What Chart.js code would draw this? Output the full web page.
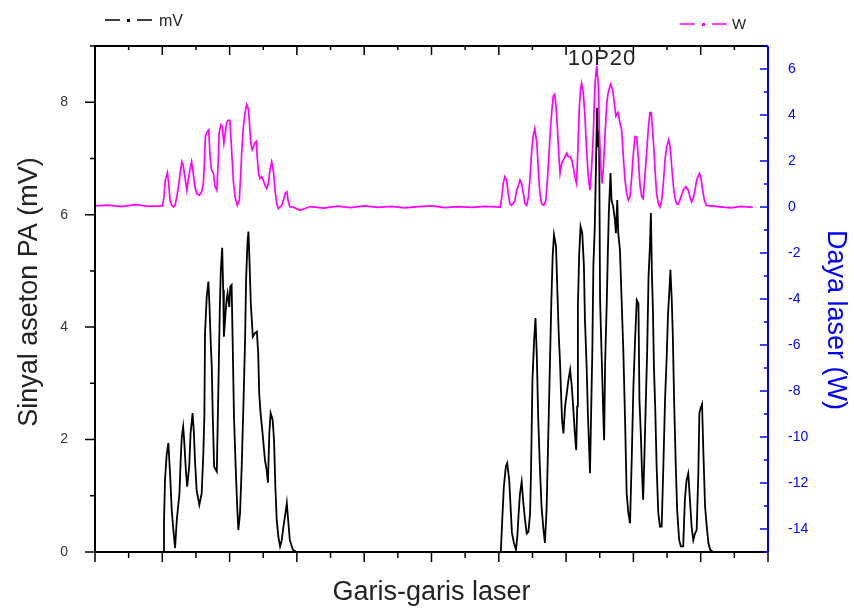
<!DOCTYPE html>
<html>
<head>
<meta charset="utf-8">
<script src="https://cdn.jsdelivr.net/npm/chart.js@4.4.0/dist/chart.umd.min.js"></script>
<style>
  html, body { margin: 0; padding: 0; background: #fff; }
  #wrap { width: 854px; height: 608px; position: relative; }
</style>
</head>
<body>
<div id="wrap"><canvas id="chart"></canvas></div>
<script>
// ============================================
// Sinyal aseton PA (mV) dan daya laser (W) per garis laser
// ============================================

const mvTicks = [0, 2, 4, 6, 8];
const wTicks = [-14, -12, -10, -8, -6, -4, -2, 0, 2, 4, 6];

// Sinyal PA, kelompok kiri  [garis, mV]
const mvLeft = [
  [2.03,0],[2.05,0.51],[2.08,1.28],[2.13,1.73],[2.18,1.94],[2.23,1.40],[2.28,0.75],[2.33,0.39],[2.38,0.07],[2.43,0.57],
  [2.51,1.04],[2.55,1.70],[2.58,2.05],[2.62,2.23],[2.65,1.99],[2.70,1.46],[2.74,1.16],[2.80,1.52],[2.84,2.11],[2.90,2.47],
  [2.94,2.11],[2.97,1.64],[3.02,1.10],[3.10,0.84],[3.17,1.04],[3.22,1.76],[3.25,2.41],[3.27,3.90],[3.32,4.54],[3.37,4.81],
  [3.40,4.42],[3.44,3.71],[3.47,3.30],[3.50,2.41],[3.54,1.52],[3.62,1.43],[3.66,2.70],[3.71,4.36],[3.74,5.02],[3.78,5.41],
  [3.81,4.66],[3.83,3.83],[3.88,4.25],[3.91,4.48],[3.94,4.60],[3.99,4.36],[4.02,4.72],[4.06,4.75],[4.09,3.77],[4.13,2.41],
  [4.18,1.52],[4.23,0.75],[4.26,0.39],[4.31,0.69],[4.36,1.52],[4.41,2.59],[4.46,3.77],[4.49,4.84],[4.53,5.49],[4.56,5.70],
  [4.59,5.20],[4.63,4.42],[4.69,3.83],[4.75,3.89],[4.81,3.92],[4.85,3.54],[4.88,2.82],[4.92,2.47],[4.98,2.11],[5.05,1.64],
  [5.10,1.46],[5.14,1.23],[5.18,2.11],[5.22,2.47],[5.28,2.35],[5.32,1.99],[5.36,1.16],[5.40,0.57],[5.45,0.27],[5.50,0.10],
  [5.55,0.21],[5.60,0.45],[5.66,0.69],[5.70,0.87],[5.74,0.57],[5.79,0.21],[5.88,0.04],[5.99,0]
];

// Sinyal PA, kelompok kanan (10P20)
const mvRight = [
  [12.06,0],[12.10,0.54],[12.15,1.16],[12.21,1.52],[12.25,1.58],[12.31,1.28],[12.35,0.81],[12.39,0.34],[12.45,0.16],[12.51,0.04],
  [12.55,0.27],[12.59,0.69],[12.63,1.04],[12.68,1.25],[12.73,0.87],[12.78,0.57],[12.83,0.33],[12.88,0.36],[12.93,0.69],[12.96,1.52],
  [13.00,3.06],[13.05,3.77],[13.09,4.16],[13.13,3.48],[13.17,2.41],[13.22,1.52],[13.27,0.81],[13.32,0.45],[13.37,0.16],[13.42,0.75],
  [13.47,2.05],[13.52,3.36],[13.56,4.42],[13.60,5.25],[13.64,5.64],[13.70,5.43],[13.74,4.66],[13.78,3.89],[13.82,3.36],[13.85,2.82],
  [13.88,2.35],[13.92,2.11],[13.97,2.59],[14.02,2.82],[14.07,3.06],[14.12,3.24],[14.17,2.94],[14.21,2.59],[14.26,2.11],[14.30,1.81],
  [14.33,2.59],[14.35,4.36],[14.39,5.31],[14.43,5.79],[14.48,5.67],[14.53,5.08],[14.56,4.13],[14.61,3.30],[14.65,2.41],[14.69,1.76],
  [14.71,1.40],[14.74,2.35],[14.78,3.59],[14.81,5.08],[14.85,5.73],[14.88,6.60],[14.92,7.90],[14.95,7.20],[14.98,7.50],[15.01,4.48],
  [15.06,3.42],[15.11,2.35],[15.13,1.99],[15.16,3.36],[15.21,4.48],[15.24,5.31],[15.27,6.03],[15.32,6.74],[15.35,6.26],[15.40,6.14],
  [15.45,5.91],[15.48,5.67],[15.52,6.26],[15.55,5.67],[15.60,5.37],[15.65,4.48],[15.70,3.59],[15.75,2.41],[15.80,1.04],[15.85,0.69],
  [15.90,0.51],[15.95,1.64],[16.00,2.94],[16.05,3.77],[16.10,4.48],[16.15,4.42],[16.18,2.70],[16.22,2.11],[16.26,1.34],[16.29,0.93],
  [16.33,1.76],[16.37,2.70],[16.41,3.59],[16.45,4.90],[16.49,5.43],[16.52,6.03],[16.55,4.96],[16.58,4.31],[16.61,3.30],[16.65,2.53],
  [16.69,1.52],[16.74,0.69],[16.79,0.45],[16.84,0.45],[16.89,1.52],[16.94,2.70],[16.99,3.48],[17.03,4.25],[17.07,4.66],[17.10,5.02],
  [17.14,4.48],[17.17,3.89],[17.21,2.70],[17.26,1.52],[17.30,0.75],[17.36,0.21],[17.41,0.10],[17.48,0.10],[17.53,0.93],[17.58,1.28],
  [17.63,1.40],[17.68,0.93],[17.73,0.45],[17.78,0.21],[17.83,0.33],[17.88,0.39],[17.93,1.40],[17.96,2.47],[18.00,2.56],[18.04,2.63],
  [18.08,1.76],[18.13,0.81],[18.18,0.45],[18.23,0.16],[18.28,0.04],[18.37,0]
];

const mvFlat = [[0,0],[19.55,0]];

// Daya laser, kelompok kiri  [garis, W]
const wLeft = [
  [2.01,0.05],[2.05,0.45],[2.09,1.17],[2.15,1.49],[2.19,1.02],[2.23,0.29],[2.28,0.07],[2.33,0.00],[2.38,0.07],[2.43,0.44],
  [2.48,0.88],[2.53,1.46],[2.58,1.97],[2.62,1.83],[2.67,1.32],[2.73,0.73],[2.77,1.17],[2.82,1.61],[2.87,1.97],[2.92,1.46],
  [2.97,0.88],[3.02,0.59],[3.10,0.51],[3.17,0.66],[3.22,1.02],[3.25,1.90],[3.28,3.07],[3.34,3.29],[3.38,3.36],[3.42,2.19],
  [3.46,1.61],[3.52,1.46],[3.57,0.88],[3.62,0.73],[3.66,1.90],[3.69,3.22],[3.74,3.58],[3.78,3.51],[3.83,2.78],[3.87,3.22],
  [3.91,3.66],[3.96,3.77],[4.01,3.77],[4.06,2.49],[4.11,1.17],[4.16,0.44],[4.23,0.07],[4.29,0.29],[4.33,1.46],[4.37,2.63],
  [4.41,3.51],[4.46,4.10],[4.51,4.46],[4.56,4.24],[4.59,3.66],[4.63,2.78],[4.67,2.49],[4.71,2.63],[4.75,2.78],[4.80,2.86],
  [4.82,2.19],[4.86,1.46],[4.90,1.24],[4.95,1.32],[5.00,1.17],[5.05,0.95],[5.10,0.80],[5.15,1.02],[5.20,1.61],[5.25,1.97],
  [5.28,1.75],[5.32,1.32],[5.35,0.73],[5.40,0.15],[5.45,-0.07],[5.50,0.00],[5.55,0.07],[5.60,0.29],[5.65,0.59],[5.70,0.66],
  [5.74,0.29],[5.79,0.00],[5.89,0.00],[5.99,-0.07],[6.09,-0.14]
];

// Daya laser, kelompok kanan
const wRight = [
  [12.04,0.00],[12.09,0.44],[12.13,1.02],[12.18,1.32],[12.23,1.17],[12.28,0.59],[12.33,0.15],[12.38,0.07],[12.43,0.15],[12.48,0.29],
  [12.53,0.73],[12.57,0.88],[12.63,1.17],[12.68,1.02],[12.73,0.59],[12.78,0.15],[12.83,0.07],[12.88,0.44],[12.93,1.32],[12.98,2.49],
  [13.02,3.07],[13.07,3.41],[13.13,2.78],[13.17,1.75],[13.22,0.59],[13.27,0.15],[13.34,0.07],[13.40,0.29],[13.45,1.32],[13.50,2.49],
  [13.54,3.51],[13.58,4.24],[13.62,4.82],[13.66,4.90],[13.70,4.39],[13.74,3.51],[13.78,2.34],[13.82,1.46],[13.87,1.90],[13.92,2.05],
  [13.97,2.19],[14.02,2.34],[14.06,2.19],[14.12,2.19],[14.17,2.05],[14.21,1.75],[14.26,1.32],[14.31,1.02],[14.35,2.49],[14.39,4.24],
  [14.43,5.12],[14.46,5.38],[14.51,4.97],[14.56,3.95],[14.61,2.49],[14.66,1.32],[14.71,0.73],[14.76,1.75],[14.81,3.22],[14.86,5.41],
  [14.91,6.14],[14.96,5.26],[14.99,3.22],[15.03,1.75],[15.07,1.02],[15.11,1.75],[15.16,3.22],[15.21,4.53],[15.25,4.97],[15.32,5.34],
  [15.38,5.12],[15.42,4.68],[15.48,3.95],[15.54,4.10],[15.60,3.66],[15.65,3.36],[15.70,2.19],[15.75,1.17],[15.80,0.59],[15.85,0.29],
  [15.90,0.44],[15.95,1.32],[16.00,2.34],[16.05,3.07],[16.10,3.04],[16.15,2.05],[16.20,0.88],[16.25,0.44],[16.29,0.37],[16.34,1.32],
  [16.40,2.49],[16.44,3.36],[16.49,4.10],[16.53,4.10],[16.57,3.36],[16.61,2.49],[16.65,1.46],[16.69,0.59],[16.74,0.15],[16.79,0.00],
  [16.84,0.29],[16.89,1.02],[16.94,2.05],[16.99,2.63],[17.05,2.92],[17.09,2.63],[17.14,1.75],[17.19,0.88],[17.23,0.44],[17.28,0.15],
  [17.33,0.12],[17.38,0.29],[17.48,0.73],[17.56,0.88],[17.63,0.73],[17.68,0.44],[17.73,0.22],[17.78,0.37],[17.83,0.73],[17.88,1.17],
  [17.96,1.46],[18.00,1.32],[18.06,0.73],[18.11,0.29],[18.17,0.07]
];

// Garis dasar daya laser di luar kelompok
const wBaseStart = [[0,0.05],[0.4,0.08],[0.8,0.02],[1.2,0.10],[1.6,0.03]];
const wBaseMid = [[6.4,0.02],[6.8,-0.05],[7.2,0.04],[7.6,-0.03],[8.0,0.05],[8.4,-0.02],[8.8,0.03],[9.2,-0.04],
                  [9.6,0.02],[10.0,0.05],[10.4,-0.03],[10.8,0.02],[11.2,-0.02],[11.6,0.03]];
const wBaseEnd = [[18.5,0.02],[18.9,-0.04],[19.2,0.03],[19.55,-0.02]];

const toXY = pts => pts.map(([x, y]) => ({ x, y }));
const byX = (a, b) => a.x - b.x;

const mvData = toXY([...mvFlat, ...mvLeft, ...mvRight]).sort(byX);
const wData = toXY([...wBaseStart, ...wLeft, ...wBaseMid, ...wRight, ...wBaseEnd]).sort(byX);

const FONT = '"Liberation Sans", Arial, sans-serif';

function dashDot(ctx, x, y, color) {
    ctx.strokeStyle = color;
    ctx.fillStyle = color;
    ctx.lineWidth = 1.6;
    ctx.beginPath();
    ctx.moveTo(x, y); ctx.lineTo(x + 15, y);
    ctx.moveTo(x + 32, y); ctx.lineTo(x + 47, y);
    ctx.stroke();
    ctx.fillRect(x + 22, y - 1, 3, 3);
}

const framePlugin = {
    id: 'frame',
    afterDraw(chart) {
        const { ctx, chartArea: a, scales } = chart;
        const x = scales.x, y = scales.y, y2 = scales.y2;
        ctx.save();

        // frame
        ctx.lineWidth = 2;
        ctx.strokeStyle = '#000';
        ctx.beginPath();
        ctx.moveTo(a.right, a.top); ctx.lineTo(a.left, a.top);
        ctx.lineTo(a.left, a.bottom); ctx.lineTo(a.right, a.bottom);
        ctx.stroke();

        ctx.lineWidth = 1.5;
        ctx.beginPath();
        for (let v = 0; v <= 20; v++) {
            const px = x.getPixelForValue(v);
            const major = v % 2 === 0;
            ctx.moveTo(px, a.bottom); ctx.lineTo(px, a.bottom + (major ? 10 : 6));
            ctx.moveTo(px, a.top); ctx.lineTo(px, a.top + (major ? 9 : 4));
        }
        for (let v = 0; v <= 9; v++) {
            const py = y.getPixelForValue(v);
            ctx.moveTo(a.left - (v % 2 === 0 ? 10 : 5), py); ctx.lineTo(a.left, py);
        }
        ctx.stroke();

        // right axis (blue)
        ctx.strokeStyle = '#0000ff';
        ctx.lineWidth = 2;
        ctx.beginPath();
        ctx.moveTo(a.right, a.top); ctx.lineTo(a.right, a.bottom);
        ctx.stroke();
        ctx.lineWidth = 1.5;
        ctx.beginPath();
        for (let v = -15; v <= 7; v++) {
            const py = y2.getPixelForValue(v);
            ctx.moveTo(a.right - (v % 2 === 0 ? 8 : 4), py); ctx.lineTo(a.right, py);
        }
        ctx.stroke();

        // axis titles
        ctx.fillStyle = '#222';
        ctx.font = '27px ' + FONT;
        ctx.textAlign = 'center';
        ctx.textBaseline = 'alphabetic';
        ctx.fillText('Garis-garis laser', (a.left + a.right) / 2, 600);

        ctx.save();
        ctx.translate(37, 292);
        ctx.rotate(-Math.PI / 2);
        ctx.fillText('Sinyal aseton PA (mV)', 0, 0);
        ctx.restore();

        ctx.save();
        ctx.fillStyle = '#0000ff';
        ctx.translate(828, 320);
        ctx.rotate(Math.PI / 2);
        ctx.fillText('Daya laser (W)', 0, 0);
        ctx.restore();

        // label 10P20
        ctx.font = '22px ' + FONT;
        ctx.letterSpacing = '1px';
        ctx.fillText('10P20', 602, 65);
        ctx.letterSpacing = '0px';

        // legenda
        ctx.textAlign = 'left';
        dashDot(ctx, 105, 20, '#000');
        ctx.fillStyle = '#222';
        ctx.font = '16px ' + FONT;
        ctx.fillText('mV', 159, 26);

        dashDot(ctx, 680, 24, '#ff00ff');
        ctx.fillStyle = '#222';
        ctx.font = '15px ' + FONT;
        ctx.fillText('W', 732, 29);

        ctx.restore();
    }
};

new Chart(document.getElementById('chart'), {
    type: 'line',
    data: {
        datasets: [
            {
                label: 'W',
                data: wData,
                yAxisID: 'y2',
                borderColor: '#ff00ff',
                borderWidth: 1.7,
                pointRadius: 0,
                tension: 0
            },
            {
                label: 'mV',
                data: mvData,
                yAxisID: 'y',
                borderColor: '#000000',
                borderWidth: 1.8,
                pointRadius: 0,
                tension: 0
            }
        ]
    },
    options: {
        responsive: true,
        maintainAspectRatio: false,
        animation: false,
        layout: { padding: { top: 46, left: 0, right: 0, bottom: 0 } },
        plugins: { legend: { display: false }, tooltip: { enabled: false } },
        scales: {
            x: {
                type: 'linear',
                min: 0,
                max: 20,
                grid: { display: false },
                border: { display: false },
                ticks: { display: false },
                afterFit: s => { s.height = 56; }
            },
            y: {
                position: 'left',
                min: 0,
                max: 9,
                afterBuildTicks: s => { s.ticks = mvTicks.map(v => ({ value: v })); },
                ticks: { color: '#333', padding: 19, font: { family: FONT, size: 14 } },
                grid: { display: false },
                border: { display: false },
                afterFit: s => { s.width = 95; }
            },
            y2: {
                position: 'right',
                min: -15,
                max: 7,
                afterBuildTicks: s => { s.ticks = wTicks.map(v => ({ value: v })); },
                ticks: { color: '#0000ff', padding: 12, font: { family: FONT, size: 14 } },
                grid: { display: false },
                border: { display: false },
                afterFit: s => { s.width = 86; }
            }
        }
    },
    plugins: [framePlugin]
});
</script>
</body>
</html>
